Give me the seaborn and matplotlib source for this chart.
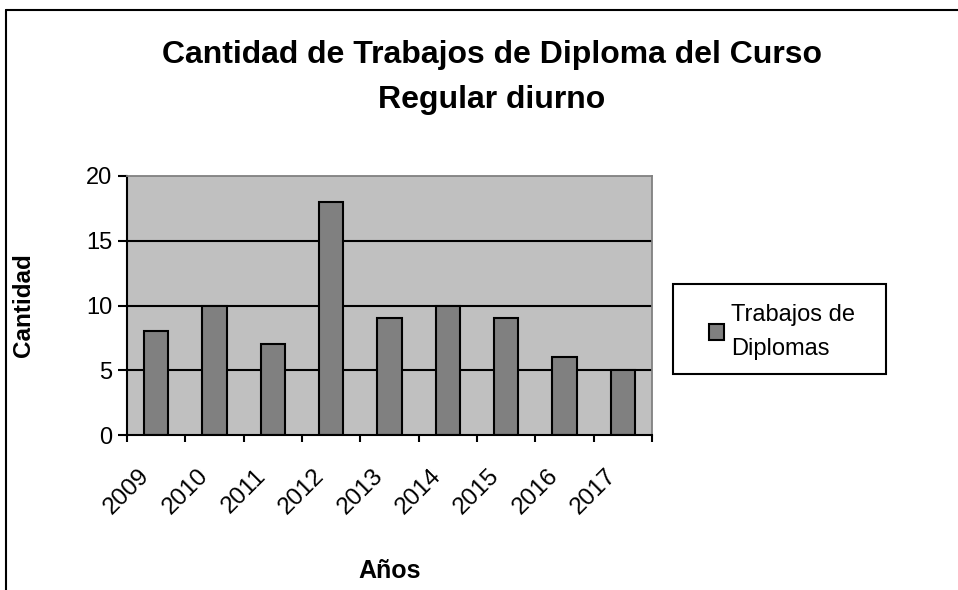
import numpy as np
import pandas as pd
import seaborn as sns
import matplotlib.pyplot as plt
import matplotlib.transforms as mtransforms
from matplotlib.lines import Line2D
from matplotlib.patches import Rectangle

# data
years = ['2009', '2010', '2011', '2012', '2013', '2014', '2015', '2016', '2017']
trabajos = [8, 10, 7, 18, 9, 10, 9, 6, 5]
y_ticks = [0, 5, 10, 15, 20]

title_1 = 'Cantidad de Trabajos de Diploma del Curso'
title_2 = 'Regular diurno'
x_label = 'Años'
y_label = 'Cantidad'
serie_label = 'Trabajos de\nDiplomas'

df = pd.DataFrame({'anio': years, 'cantidad': trabajos})

sns.set_style('white')
plt.rcParams['font.family'] = ['Liberation Sans', 'DejaVu Sans']
plt.rcParams['text.color'] = 'black'
plt.rcParams['axes.labelcolor'] = 'black'
plt.rcParams['xtick.color'] = 'black'
plt.rcParams['ytick.color'] = 'black'

W, H = 958, 590
fig = plt.figure(figsize=(W / 100, H / 100), dpi=100)
ax = fig.add_axes([127 / W, 155 / H, 525 / W, 259 / H])

sns.barplot(data=df, x='anio', y='cantidad', color='#808080', saturation=1,
            edgecolor='black', linewidth=1.5, width=0.42,
            label=serie_label, ax=ax, zorder=2)
if ax.get_legend() is not None:
    ax.get_legend().remove()

ax.set_facecolor('#C0C0C0')
ax.set_xlim(-0.5, len(years) - 0.5)
ax.set_ylim(y_ticks[0], y_ticks[-1])
ax.set_yticks(y_ticks)
for y in y_ticks[1:-1]:
    ax.axhline(y, color='black', lw=1.5, zorder=1)

# excel style: ticks between categories, labels in the middle
ax.set_xticks(np.arange(len(years) + 1) - 0.5, labels=[])
ax.set_xticks(np.arange(len(years)), labels=years, minor=True)
ax.tick_params(axis='x', which='major', direction='out', length=5, width=1.5,
               bottom=True)
ax.tick_params(axis='x', which='minor', length=0, pad=27, labelsize=17.5)
ax.tick_params(axis='y', direction='out', length=6.5, width=1.5,
               left=True, labelsize=17, pad=4)
shift = mtransforms.ScaledTranslation(-0.10, 0, fig.dpi_scale_trans)
for lab in ax.get_xticklabels(minor=True):
    lab.set_rotation(45)
    lab.set_ha('right')
    lab.set_va('center')
    lab.set_rotation_mode('anchor')
    lab.set_transform(lab.get_transform() + shift)

for side in ['left', 'bottom']:
    ax.spines[side].set_color('black')
    ax.spines[side].set_linewidth(1.5)
for side in ['top', 'right']:
    ax.spines[side].set_color('#808080')
    ax.spines[side].set_linewidth(1.3)

ax.set_xlabel(x_label, fontsize=18, fontweight='bold')
ax.set_ylabel(y_label, fontsize=17.5, fontweight='bold')
ax.xaxis.set_label_coords(0.5, -0.48)
ax.yaxis.set_label_coords(-0.175, 0.5)

# legend box drawn separately so its padding matches the excel one
fig.add_artist(Rectangle((673 / W, 1 - 374 / H), 213 / W, 90 / H,
                         transform=fig.transFigure, facecolor='white',
                         edgecolor='black', lw=1.5, zorder=4))
handles, labels = ax.get_legend_handles_labels()
leg = fig.legend(handles, labels, loc='center', bbox_to_anchor=(782 / W, 1 - 332 / H),
                 frameon=False, fontsize=17,
                 handlelength=0.65, handleheight=0.65, handletextpad=0.3)
leg.set_zorder(5)
for t in leg.get_texts():
    t.set_linespacing(1.65)

fig.text(492 / W, 1 - 63 / H, title_1, ha='center', va='baseline',
         fontsize=23, fontweight='bold')
fig.text(492 / W, 1 - 108 / H, title_2, ha='center', va='baseline',
         fontsize=23, fontweight='bold')

# chart area border (cut at right and bottom)
fig.add_artist(Line2D([6 / W, 6 / W], [0, 1 - 10 / H], transform=fig.transFigure,
                      color='black', lw=1.5))
fig.add_artist(Line2D([6 / W, 1], [1 - 10 / H, 1 - 10 / H], transform=fig.transFigure,
                      color='black', lw=1.5))

fig.savefig('out.png', dpi=100)
